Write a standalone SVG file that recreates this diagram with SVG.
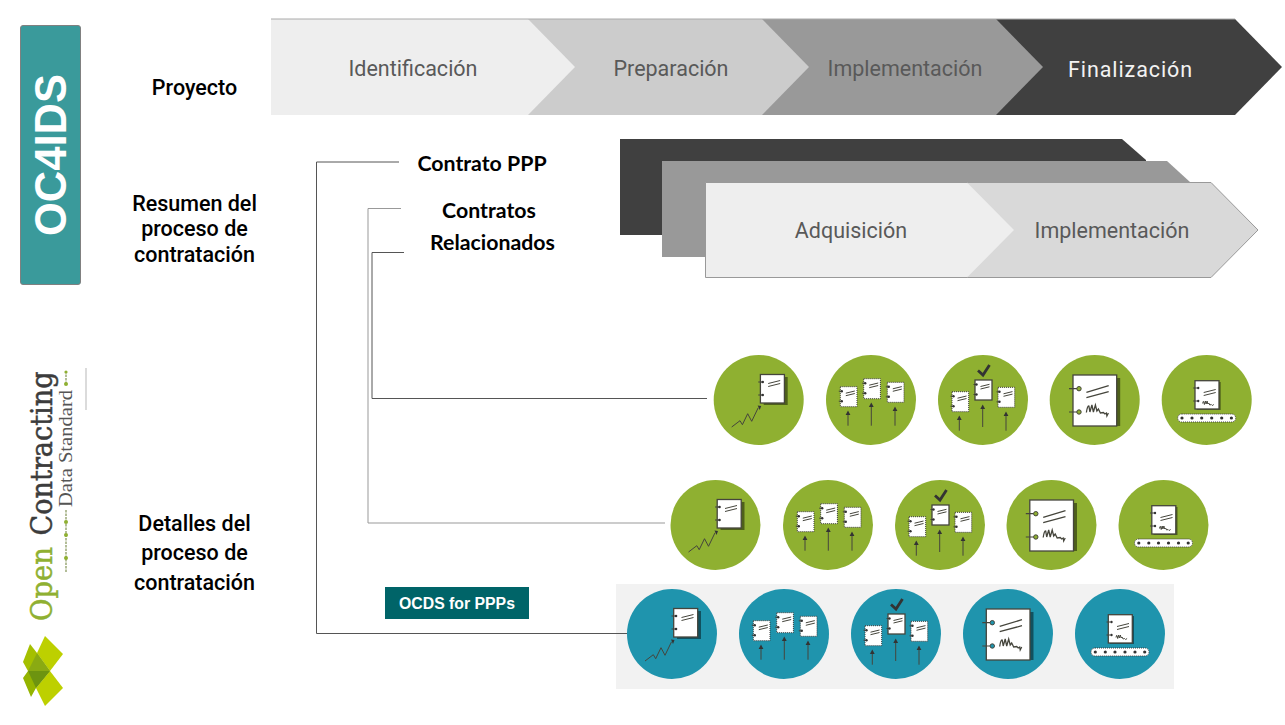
<svg xmlns="http://www.w3.org/2000/svg" xmlns:xlink="http://www.w3.org/1999/xlink" width="1285" height="725" viewBox="0 0 1285 725">
<style>
.lab{font-family:Roboto,"Liberation Sans",sans-serif;font-weight:500;font-size:21.500px;fill:#000;text-anchor:middle}
.lato{font-family:Lato,"Liberation Sans",sans-serif;font-weight:700;font-size:21.300px;fill:#000;text-anchor:middle}
.stage{font-family:Roboto,"Liberation Sans",sans-serif;font-size:21.500px;fill:#595959;text-anchor:middle}
.conn{fill:none;stroke:#555;stroke-width:1}
.g{color:#8fb031}.b{color:#1f94ad}
.doc{fill:#fff;stroke:#45453c;stroke-width:1.300}
.sd{fill:#fff;stroke:#3c3c3c;stroke-width:1;stroke-dasharray:1 1}
.ln{fill:none;stroke:#45453c;stroke-width:1}
.sh{fill:#000;fill-opacity:.45}
.dk{fill:#333}
</style>
<defs>
<g id="minidoc">
<rect class="sd" x="0" y="0" width="16.7" height="20"/>
<path class="ln" d="M5.5 6.5l9-2.2M5.5 9l9-2.2M-1.5 4.500h3M-1.500 14.500h3"/>
<circle class="dk" cx="1.500" cy="4.500" r="1.200"/><circle class="dk" cx="1.500" cy="14.500" r="1.200"/>
</g>
<g id="arrowtip"><path class="dk" d="M0 0l2.400 4.500h-4.800z"/></g>
<g id="i1">
<circle cx="0" cy="0" r="45" fill="currentColor"/>
<rect class="sh" x="5" y="-23" width="24" height="28"/>
<rect class="doc" x="1.700" y="-25.500" width="24" height="28.500"/>
<path class="ln" d="M-0.500 -18h4M-0.500 -5h4M9.500 -16.500l12-3M9.500 -13.500l12-3"/>
<circle class="dk" cx="4" cy="-18" r="1.300"/><circle class="dk" cx="4" cy="-5" r="1.300"/>
<path class="ln" d="M-27 27l8.300-6.300 2.400 4 5.300-11 4 7.600 6.500-13.500"/>
<path class="dk" d="M-1 5.500l3.500.5-1.500 4z"/>
</g>
<g id="i2">
<circle cx="0" cy="0" r="45" fill="currentColor"/>
<use xlink:href="#minidoc" x="-30.700" y="-13.300"/>
<use xlink:href="#minidoc" x="-7.300" y="-21.300"/>
<use xlink:href="#minidoc" x="16.300" y="-17.700"/>
<path class="ln" d="M-23 25.700V13M.3 25.700V5M24 25.700V9"/>
<use xlink:href="#arrowtip" x="-23" y="10.500"/><use xlink:href="#arrowtip" x=".3" y="2.500"/><use xlink:href="#arrowtip" x="24" y="6.500"/>
</g>
<g id="i3">
<circle cx="0" cy="0" r="45" fill="currentColor"/>
<use xlink:href="#minidoc" x="-31" y="-8.300"/>
<rect class="doc" x="-8" y="-20" width="17" height="20"/>
<path class="ln" d="M-2.500 -13.500l9-2.200M-2.500 -11l9-2.200M-9.500 -15.500h3M-9.500 -5.500h3"/>
<circle class="dk" cx="-6.500" cy="-15.500" r="1.200"/><circle class="dk" cx="-6.500" cy="-5.500" r="1.200"/>
<use xlink:href="#minidoc" x="15" y="-12.700"/>
<path class="ln" d="M-23.700 30.700V18M-.3 27V7M23 30.700V14"/>
<use xlink:href="#arrowtip" x="-23.700" y="15.500"/><use xlink:href="#arrowtip" x="-.3" y="4.500"/><use xlink:href="#arrowtip" x="23" y="11.500"/>
<path d="M-5 -29.500l5 4.500 6.500-10" fill="none" stroke="#333" stroke-width="2.800"/>
</g>
<g id="i4">
<circle cx="0" cy="0" r="45" fill="currentColor"/>
<rect class="sh" x="-18" y="-22" width="43.500" height="48"/>
<rect class="doc" x="-21.700" y="-25" width="43.700" height="51"/>
<path class="ln" style="stroke-width:1.200" d="M-25.700 -11.300h8M-25.700 12h8"/>
<circle cx="-15.700" cy="-11.300" r="2.200" fill="currentColor" stroke="#45453c"/><circle cx="-15.700" cy="12" r="2.200" fill="currentColor" stroke="#45453c"/>
<path class="ln" style="stroke-width:1.300" d="M-8.300 -7.700L14 -14.300M-8.300 -2.300L14 -8.300"/>
<path class="ln" style="stroke-width:1.300" d="M-8.300 12.500q1-7 2.500-6.500l1 6 2-7 1.500 7 2-7 1.500 6 1.500-2 2 4 3-.5 1.500 1.500 1.500-1 .5 3 1.500-3"/>
</g>
<g id="i5">
<circle cx="0" cy="0" r="45" fill="currentColor"/>
<rect class="sh" x="-10" y="-18" width="24" height="28"/>
<rect class="doc" x="-11.700" y="-19.300" width="24" height="28.300"/>
<path class="ln" d="M-3 -7.500l12-3M-3 -4.500l12-3M-13.500 -12h4M-13.500 1h4"/>
<circle class="dk" cx="-8.500" cy="-12" r="1.200"/><circle class="dk" cx="-8.500" cy="1" r="1.200"/>
<path class="ln" d="M-4 3.500q.5-3 1-2l.7 3 1-3.500.7 3 1-3 .7 3 1-1 1 2 1.500-.5 1 1 1.500-1"/>
<rect class="sd" x="-29" y="14" width="58" height="8" rx="4"/>
<g class="dk"><circle cx="-24.700" cy="18" r="1.600"/><circle cx="-14.700" cy="18" r="1.600"/><circle cx="-5" cy="18" r="1.600"/><circle cx="5" cy="18" r="1.600"/><circle cx="15" cy="18" r="1.600"/><circle cx="24.700" cy="18" r="1.600"/></g>
</g>
</defs>
<rect width="1285" height="725" fill="#fff"/>

<g id="connectors">
<path class="conn" d="M399 162H316.500V633.500H620"/>
<path class="conn" style="stroke:#999" d="M401 208.500H368V523H665"/>
<path class="conn" d="M404 252.500H372V398.500H707"/>
</g>

<g id="oc4ids">
<rect x="20.500" y="25.500" width="60" height="259" rx="2.500" fill="#3a9a9b" stroke="#808080"/>
<text transform="translate(65.500 155) rotate(-90)" text-anchor="middle" font-family="Liberation Sans, Arial, sans-serif" font-weight="700" font-size="43.500" fill="#fff">OC4IDS</text>
</g>

<g id="logo">
<text transform="translate(52 621) rotate(-90)" font-family="DejaVu Serif, Liberation Serif, serif" font-size="29" fill="#8fb031" stroke="#8fb031" stroke-width=".5" textLength="74" lengthAdjust="spacingAndGlyphs">Open</text>
<text transform="translate(52 535.500) rotate(-90)" font-family="DejaVu Serif, Liberation Serif, serif" font-size="29" fill="#3c3c3c" stroke="#3c3c3c" stroke-width=".5" textLength="164" lengthAdjust="spacingAndGlyphs">Contracting</text>
<text transform="translate(72 507) rotate(-90)" font-family="Liberation Serif, serif" font-size="19" fill="#555" textLength="117" lengthAdjust="spacingAndGlyphs">Data Standard</text>
<path d="M66 572V510M66 384V372" stroke="#8a9a60" stroke-width="1.300" stroke-dasharray="2.500 1" fill="none"/>
<g fill="#8fb031"><circle cx="66" cy="558" r="2"/><circle cx="66" cy="535" r="2"/><circle cx="66" cy="522" r="2"/><circle cx="66" cy="384" r="2"/><circle cx="66" cy="372" r="1.600"/></g>
<polygon points="45,636 63,654 50,671 37,653" fill="#bdd000"/>
<polygon points="50,671 63,688 45,706 36,688" fill="#bdd000"/>
<polygon points="30,644 37,653 50,671 28,671 23,662" fill="#a5c000"/>
<polygon points="28,671 50,671 36,688 31,697 23,678" fill="#94b400"/>
<polygon points="37,653 50,671 28,671" fill="#8aaa12"/>
<polygon points="28,671 50,671 36,688" fill="#6d9410"/>
<path d="M86 368V410" stroke="#999" stroke-width=".7" fill="none"/>
</g>

<g id="label-proyecto"><text class="lab" x="194.500" y="94.500">Proyecto</text></g>
<g id="label-resumen">
<text class="lab" x="194.500" y="210.500">Resumen del</text>
<text class="lab" x="194.500" y="236">proceso de</text>
<text class="lab" x="194.500" y="261.500">contratación</text>
</g>
<g id="label-detalles">
<text class="lab" x="194.500" y="530.500">Detalles del</text>
<text class="lab" x="194.500" y="560">proceso de</text>
<text class="lab" x="194.500" y="589.500">contratación</text>
</g>
<g id="label-contrato"><text class="lato" x="482" y="170.500">Contrato PPP</text></g>
<g id="label-relacionados">
<text class="lato" x="489" y="217.500">Contratos</text>
<text class="lato" x="492.500" y="249.500">Relacionados</text>
</g>

<g id="proyecto-chevrons">
<g id="finalizacion"><polygon points="995,19 1235,19 1282,67 1235,115 995,115" fill="#404040"/></g>
<g id="implementacion-p"><polygon points="762,19 996,19 1043,67 996,115 762,115" fill="#999"/></g>
<g id="preparacion"><polygon points="528,19 762,19 809,67 762,115 528,115" fill="#ccc"/></g>
<g id="identificacion"><polygon points="271,19 528,19 575,67 528,115 271,115" fill="#eee"/></g>
<path d="M271 19H1235" stroke="#aaa" stroke-width="1" fill="none"/>
<text class="stage" x="413" y="75.700">Identificación</text>
<text class="stage" x="671" y="75.700">Preparación</text>
<text class="stage" x="905" y="75.700">Implementación</text>
<text class="stage" x="1130.500" y="76.500" style="fill:#f2f2f2;letter-spacing:.9px">Finalización</text>
</g>

<g id="contrato-chevrons">
<polygon id="back-dark" points="620,139 1122,139 1146,160 1146,235 620,235" fill="#404040"/>
<polygon id="back-mid" points="662,161 1167,161 1190,182 1190,257 662,257" fill="#999"/>
<g id="implementacion-c"><polygon points="967,182.500 1211,182.500 1258,230 1211,277.500 967,277.500" fill="#d9d9d9" stroke="#999"/></g>
<g id="adquisicion"><polygon points="705.500,182.500 967,182.500 1014,230 967,277.500 705.500,277.500" fill="#eee" stroke="none"/><path d="M967 182.500H705.500V277.500H967" fill="none" stroke="#999"/></g>
<text class="stage" x="851" y="238">Adquisición</text>
<text class="stage" x="1112" y="238">Implementación</text>
</g>

<g id="row1" class="g">
<g id="r1-a"><use xlink:href="#i1" x="758.700" y="400"/></g>
<g id="r1-b"><use xlink:href="#i2" x="871" y="400"/></g>
<g id="r1-c"><use xlink:href="#i3" x="983" y="400"/></g>
<g id="r1-d"><use xlink:href="#i4" x="1094.700" y="400"/></g>
<g id="r1-e"><use xlink:href="#i5" x="1206.700" y="400"/></g>
</g>
<g id="row2" class="g">
<g id="r2-a"><use xlink:href="#i1" x="715.500" y="525"/></g>
<g id="r2-b"><use xlink:href="#i2" x="828" y="525"/></g>
<g id="r2-c"><use xlink:href="#i3" x="940" y="525"/></g>
<g id="r2-d"><use xlink:href="#i4" x="1051.500" y="525"/></g>
<g id="r2-e"><use xlink:href="#i5" x="1163.500" y="525"/></g>
</g>
<g id="panel"><rect x="616" y="584" width="558" height="105" fill="#f2f2f2"/></g>
<g id="row3" class="b">
<g id="r3-a"><use xlink:href="#i1" x="672" y="634"/></g>
<g id="r3-b"><use xlink:href="#i2" x="784" y="634"/></g>
<g id="r3-c"><use xlink:href="#i3" x="896" y="634"/></g>
<g id="r3-d"><use xlink:href="#i4" x="1008" y="634"/></g>
<g id="r3-e"><use xlink:href="#i5" x="1120" y="634"/></g>
</g>
<path d="M616 633.500H627" stroke="#555" fill="none"/>
<g id="ocds-ppp">
<rect x="385" y="587" width="144" height="32" fill="#006468"/>
<text x="457" y="609" text-anchor="middle" font-family="Liberation Sans, Arial, sans-serif" font-weight="700" font-size="15.800" fill="#fff">OCDS for PPPs</text>
</g>
</svg>
